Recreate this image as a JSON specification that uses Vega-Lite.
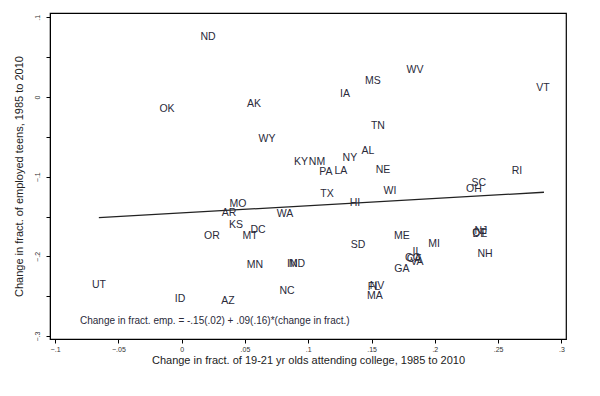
{
  "$schema": "https://vega.github.io/schema/vega-lite/v6.json",
  "autosize": "none",
  "width": 516,
  "height": 326,
  "padding": {"left": 50, "top": 13, "right": 34, "bottom": 57},
  "background": "white",
  "config": {
    "view": {"stroke": "black", "strokeWidth": 1.2},
    "font": "Liberation Sans"
  },
  "datasets": {
    "states": [
      {"st": "ND", "x": 0.0208, "y": 0.0753},
      {"st": "WV", "x": 0.1843, "y": 0.0339},
      {"st": "VT", "x": 0.2854, "y": 0.0113},
      {"st": "MS", "x": 0.1511, "y": 0.0201},
      {"st": "IA", "x": 0.1290, "y": 0.0038},
      {"st": "AK", "x": 0.0571, "y": -0.0088},
      {"st": "OK", "x": -0.0116, "y": -0.0151},
      {"st": "TN", "x": 0.1550, "y": -0.0364},
      {"st": "WY", "x": 0.0674, "y": -0.0527},
      {"st": "AL", "x": 0.1472, "y": -0.0678},
      {"st": "NY", "x": 0.1329, "y": -0.0765},
      {"st": "KY", "x": 0.0942, "y": -0.0816},
      {"st": "NM", "x": 0.1069, "y": -0.0816},
      {"st": "PA", "x": 0.1140, "y": -0.0941},
      {"st": "LA", "x": 0.1258, "y": -0.0928},
      {"st": "NE", "x": 0.1590, "y": -0.0916},
      {"st": "RI", "x": 0.2649, "y": -0.0928},
      {"st": "SC", "x": 0.2348, "y": -0.1079},
      {"st": "OH", "x": 0.2309, "y": -0.1154},
      {"st": "TX", "x": 0.1148, "y": -0.1217},
      {"st": "WI", "x": 0.1645, "y": -0.1179},
      {"st": "HI", "x": 0.1369, "y": -0.1330},
      {"st": "MO", "x": 0.0445, "y": -0.1343},
      {"st": "AR", "x": 0.0374, "y": -0.1455},
      {"st": "WA", "x": 0.0816, "y": -0.1468},
      {"st": "KS", "x": 0.0429, "y": -0.1606},
      {"st": "DC", "x": 0.0603, "y": -0.1669},
      {"st": "MT", "x": 0.0540, "y": -0.1744},
      {"st": "OR", "x": 0.0239, "y": -0.1744},
      {"st": "ME", "x": 0.1740, "y": -0.1744},
      {"st": "DE", "x": 0.2356, "y": -0.1719},
      {"st": "NJ", "x": 0.2364, "y": -0.1681},
      {"st": "CT", "x": 0.2350, "y": -0.1700},
      {"st": "MI", "x": 0.1993, "y": -0.1844},
      {"st": "SD", "x": 0.1393, "y": -0.1857},
      {"st": "NH", "x": 0.2396, "y": -0.1970},
      {"st": "IL", "x": 0.1859, "y": -0.1945},
      {"st": "CA", "x": 0.1835, "y": -0.2033},
      {"st": "CO", "x": 0.1827, "y": -0.2020},
      {"st": "VA", "x": 0.1859, "y": -0.2070},
      {"st": "MN", "x": 0.0579, "y": -0.2108},
      {"st": "MD", "x": 0.0911, "y": -0.2095},
      {"st": "IN", "x": 0.0874, "y": -0.2095},
      {"st": "GA", "x": 0.1740, "y": -0.2158},
      {"st": "UT", "x": -0.0653, "y": -0.2359},
      {"st": "NC", "x": 0.0832, "y": -0.2434},
      {"st": "NV", "x": 0.1543, "y": -0.2371},
      {"st": "FL", "x": 0.1519, "y": -0.2385},
      {"st": "MA", "x": 0.1527, "y": -0.2497},
      {"st": "ID", "x": -0.0013, "y": -0.2534},
      {"st": "AZ", "x": 0.0366, "y": -0.2560}
    ],
    "fit": [
      {"x": -0.0654, "y": -0.1514},
      {"x": 0.2862, "y": -0.1195}
    ],
    "note": [
      {"x": -0.0803, "y": -0.2810, "t": "Change in fract. emp. = -.15(.02) + .09(.16)*(change in fract.)"}
    ]
  },
  "layer": [
    {
      "data": {"name": "fit"},
      "mark": {"type": "line", "color": "#222222", "strokeWidth": 1.3},
      "encoding": {
        "x": {
          "field": "x", "type": "quantitative",
          "scale": {"domain": [-0.104, 0.3036], "nice": false, "zero": false},
          "axis": {
            "values": [-0.1, -0.075, -0.05, -0.025, 0, 0.025, 0.05, 0.075, 0.1, 0.125, 0.15, 0.175, 0.2, 0.225, 0.25, 0.275, 0.3],
            "labelExpr": "abs(datum.value*20 - round(datum.value*20)) < 0.000001 ? (datum.value == 0 ? '0' : replace(format(datum.value, '.2~f'), '0.', '.')) : ''",
            "grid": false,
            "domainColor": "black",
            "tickColor": "black",
            "tickSize": 4,
            "labelFontSize": 7,
            "labelColor": "#333333",
            "labelPadding": 2,
            "title": "Change in fract. of 19-21 yr olds attending college, 1985 to 2010",
            "titleFontSize": 11,
            "titleFontWeight": "normal",
            "titleColor": "#222222",
            "titlePadding": 2
          }
        },
        "y": {
          "field": "y", "type": "quantitative",
          "scale": {"domain": [-0.3036, 0.1054], "nice": false, "zero": false},
          "axis": {
            "values": [-0.3, -0.25, -0.2, -0.15, -0.1, -0.05, 0, 0.05, 0.1],
            "labelExpr": "abs(datum.value*10 - round(datum.value*10)) < 0.000001 ? (datum.value == 0 ? '0' : replace(format(datum.value, '.2~f'), '0.', '.')) : ''",
            "grid": false,
            "domainColor": "black",
            "tickColor": "black",
            "tickSize": 4,
            "labelFontSize": 7,
            "labelColor": "#333333",
            "labelAngle": -90,
            "labelAlign": "center",
            "labelBaseline": "bottom",
            "labelPadding": 6,
            "title": "Change in fract. of employed teens, 1985 to 2010",
            "titleFontSize": 11,
            "titleFontWeight": "normal",
            "titleColor": "#222222",
            "titlePadding": 9
          }
        }
      }
    },
    {
      "data": {"name": "states"},
      "mark": {"type": "text", "fontSize": 10.5, "color": "#2a2a3a", "align": "center", "baseline": "middle"},
      "encoding": {
        "x": {"field": "x", "type": "quantitative"},
        "y": {"field": "y", "type": "quantitative"},
        "text": {"field": "st"}
      }
    },
    {
      "data": {"name": "note"},
      "mark": {"type": "text", "fontSize": 10, "color": "#2a2a3a", "align": "left", "baseline": "middle"},
      "encoding": {
        "x": {"field": "x", "type": "quantitative"},
        "y": {"field": "y", "type": "quantitative"},
        "text": {"field": "t"}
      }
    }
  ]
}
